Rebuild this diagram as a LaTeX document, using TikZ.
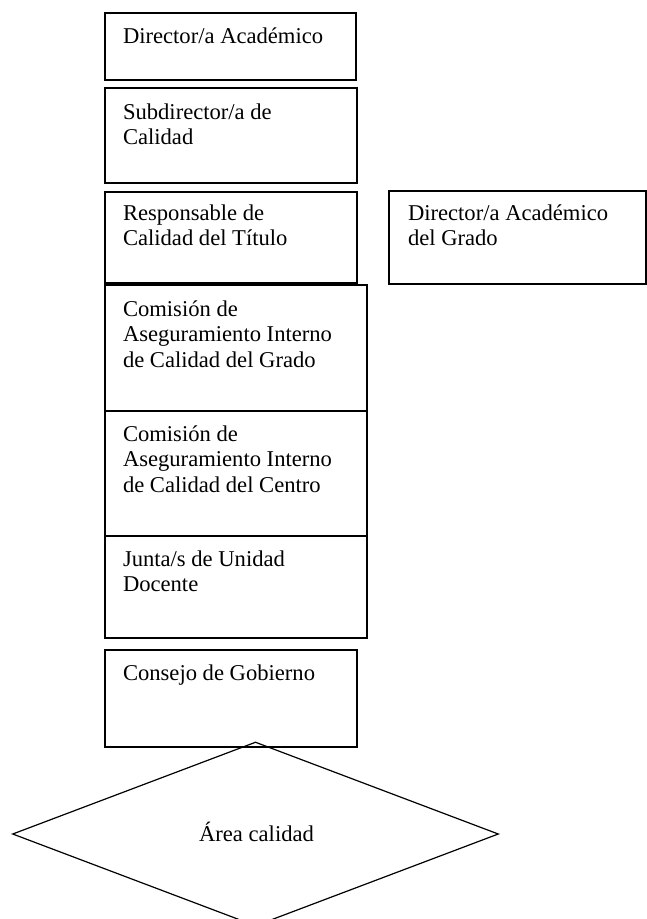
\documentclass[tikz,border=0pt]{standalone}
\usepackage{fontspec}
\setmainfont{Liberation Serif}
\usetikzlibrary{shapes.geometric,calc}
\newcommand{\tallstrut}{\rule{0pt}{24bp}}
\begin{document}
\begin{tikzpicture}[x=1bp,y=-1bp,
  box/.style={draw,line width=1.2bp,rectangle,inner sep=0pt,outer sep=0pt,anchor=north west},
  txt/.style={inner sep=0pt,outer sep=0pt,anchor=north west,align=left,
    font=\fontsize{22.6bp}{25.8bp}\selectfont}]
\useasboundingbox (0,0) rectangle (647,919);
% boxes
\node[box,minimum width=251bp,minimum height=67bp] (b1) at (105,13) {};
\node[box,minimum width=252bp,minimum height=95bp] (b2) at (105,88) {};
\node[box,minimum width=252bp,minimum height=91bp] (b3) at (105,192) {};
\node[box,minimum width=257bp,minimum height=93bp] (r1) at (389,191) {};
\node[box,minimum width=262bp,minimum height=126bp] (b4) at (105,285) {};
\node[box,minimum width=262bp,minimum height=125bp] (b5) at (105,411) {};
\node[box,minimum width=262bp,minimum height=102bp] (b6) at (105,536) {};
\node[box,minimum width=252bp,minimum height=97bp] (b7) at (105,650) {};
% diamond
\node[draw,line width=1.2bp,diamond,shape aspect=2.64,minimum width=486bp,minimum height=184bp,inner sep=0pt] (area) at (255.5,834) {};
% texts
\node[txt] (t1) at ($(b1.north west)+(18,6)$) {\tallstrut Director/a Académico};
\node[txt] (t2) at ($(b2.north west)+(18,7)$) {\tallstrut Subdirector/a de\\Calidad};
\node[txt] (t3) at ($(b3.north west)+(18,4)$) {\tallstrut Responsable de\\Calidad del Título};
\node[txt] (tr) at ($(r1.north west)+(19,5)$) {\tallstrut Director/a Académico\\del Grado};
\node[txt] (t4) at ($(b4.north west)+(18,7)$) {\tallstrut Comisión de\\Aseguramiento Interno\\de Calidad del Grado};
\node[txt] (t5) at ($(b5.north west)+(18,6)$) {\tallstrut Comisión de\\Aseguramiento Interno\\de Calidad del Centro};
\node[txt] (t6) at ($(b6.north west)+(18,6)$) {\tallstrut Junta/s de Unidad\\Docente};
\node[txt] (t7) at ($(b7.north west)+(18,6)$) {\tallstrut Consejo de Gobierno};
\node[inner sep=0pt,anchor=base,font=\fontsize{22.6bp}{25.8bp}\selectfont] (ta) at ($(area.center)+(1,7)$) {Área calidad};
\end{tikzpicture}
\end{document}
